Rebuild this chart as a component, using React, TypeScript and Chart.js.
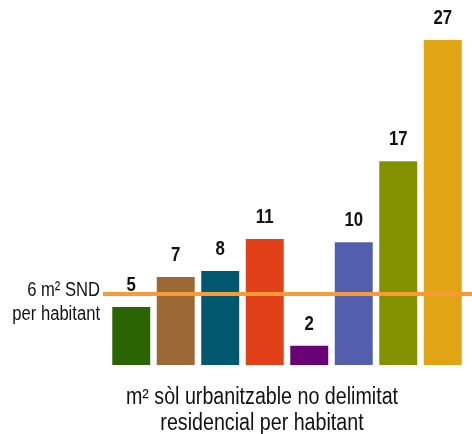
import { useEffect, useRef } from "react";
import { Chart, registerables } from "chart.js";

Chart.register(...registerables);

const categories = ["1", "2", "3", "4", "5", "6", "7", "8"];
// bar heights
const values = [4.82, 7.31, 7.81, 10.47, 1.6, 10.2, 16.94, 27.0];
// labels printed above the bars
const valueLabels = ["5", "7", "8", "11", "2", "10", "17", "27"];
const barColors = [
  "#2b6402",
  "#9b6836",
  "#02586f",
  "#e14018",
  "#6a0177",
  "#535eae",
  "#859200",
  "#e1a414",
];
const referenceValue = 5.9;
const referenceLabel = ["6 m² SND", "per habitant"];
const chartTitle = ["m² sòl urbanitzable no delimitat", "residencial per habitant"];

const FONT = '"Liberation Sans", Arial, sans-serif';

function condensedText(
  ctx: CanvasRenderingContext2D,
  text: string,
  x: number,
  y: number,
  sx: number
) {
  ctx.save();
  ctx.translate(x, y);
  ctx.scale(sx, 1);
  ctx.fillText(text, 0, 0);
  ctx.restore();
}

const overlayPlugin = {
  id: "overlay",
  afterDatasetsDraw(chart: any) {
    const ctx = chart.ctx;
    const yScale = chart.scales.y;
    const area = chart.chartArea;
    const y = yScale.getPixelForValue(referenceValue);
    ctx.save();
    // reference line
    ctx.strokeStyle = "#f99a38";
    ctx.lineWidth = 4;
    ctx.beginPath();
    ctx.moveTo(area.left - 6, y);
    ctx.lineTo(chart.width, y);
    ctx.stroke();
    // reference label
    ctx.fillStyle = "#111111";
    ctx.font = `20px ${FONT}`;
    ctx.textAlign = "right";
    ctx.textBaseline = "alphabetic";
    condensedText(ctx, referenceLabel[0], area.left - 9, y + 2, 0.83);
    condensedText(ctx, referenceLabel[1], area.left - 9, y + 26, 0.83);
    // value labels
    const meta = chart.getDatasetMeta(0);
    ctx.font = `bold 21px ${FONT}`;
    ctx.textAlign = "center";
    meta.data.forEach((bar: any, i: number) => {
      condensedText(ctx, valueLabels[i], bar.x, bar.y - 16, 0.8);
    });
    // title below the bars
    ctx.font = `23px ${FONT}`;
    ctx.textAlign = "center";
    const cx = (area.left + area.right) / 2 - 25;
    condensedText(ctx, chartTitle[0], cx, area.bottom + 39, 0.855);
    condensedText(ctx, chartTitle[1], cx, area.bottom + 64.5, 0.855);
    ctx.restore();
  },
};

export default function App() {
  const canvasRef = useRef<HTMLCanvasElement | null>(null);

  useEffect(() => {
    if (!canvasRef.current) return;
    const chart = new Chart(canvasRef.current, {
      type: "bar",
      data: {
        labels: categories,
        datasets: [
          {
            data: values,
            backgroundColor: barColors,
            borderWidth: 0,
            categoryPercentage: 1,
            barPercentage: 0.853,
          },
        ],
      },
      options: {
        animation: false,
        responsive: false,
        maintainAspectRatio: false,
        layout: { padding: { left: 109, right: 7, top: 4, bottom: 69 } },
        plugins: {
          legend: { display: false },
          tooltip: { enabled: false },
          title: { display: false },
        },
        scales: {
          x: { display: false },
          y: {
            display: false,
            min: 0,
            max: 30,
          },
        },
      },
      plugins: [overlayPlugin],
    });
    return () => chart.destroy();
  }, []);

  return (
    <div style={{ position: "absolute", left: 0, top: 0, width: 472, height: 434, background: "#ffffff" }}>
      <canvas ref={canvasRef} width={472} height={434} style={{ width: 472, height: 434, display: "block" }} />
    </div>
  );
}
